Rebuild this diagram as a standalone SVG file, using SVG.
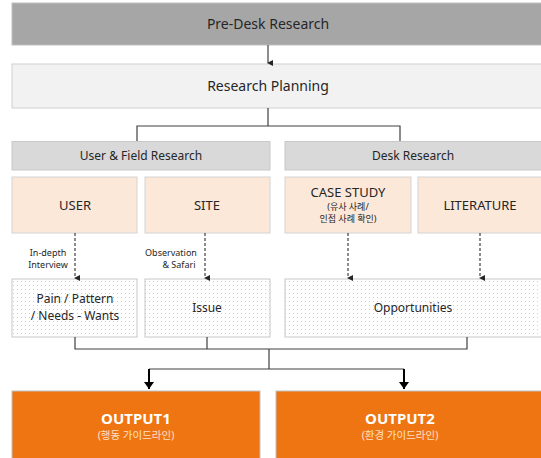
<svg xmlns="http://www.w3.org/2000/svg" width="541" height="458" viewBox="0 0 541 458">
<style>
text{font-family:"Noto Sans","Noto Sans CJK KR",sans-serif;fill:#262626;text-anchor:middle}
.l{fill:none;stroke:#404040;stroke-width:1.2}
.d{fill:none;stroke:#404040;stroke-width:1.2;stroke-dasharray:3,2}
.grey{fill:#d9d9d9;stroke:#c8c8c8}
.peach{fill:#fce8d9;stroke:#d4d4d4}
.dot{fill:url(#dots);stroke:#c8c8c8}
.out{fill:#ef7512;stroke:#c0c0c0}
</style>
<defs>
<pattern id="dots" width="4" height="4" patternUnits="userSpaceOnUse">
<rect width="4" height="4" fill="#ffffff"/>
<rect x="1" y="1" width="1" height="1" fill="#b4d4f5"/>
</pattern>
<marker id="a" markerWidth="6" markerHeight="6" refX="3" refY="5" orient="auto-start-reverse" markerUnits="userSpaceOnUse">
<path d="M0,0 L6,0 L3,6 z" fill="#262626"/>
</marker>
<marker id="b" markerWidth="10" markerHeight="10" refX="5" refY="9" markerUnits="userSpaceOnUse">
<path d="M0,2 L10,2 L5,9 z" fill="#000"/>
</marker>
</defs>
<g id="pre"><rect x="12" y="3" width="535" height="42" fill="#a6a6a6" stroke="#bfbfbf"/><text x="268" y="29" font-size="14">Pre-Desk Research</text></g>
<g id="planning"><rect x="12" y="64" width="535" height="44" fill="#f2f2f2" stroke="#d0d0d0"/><text x="268" y="91" font-size="14">Research Planning</text></g>
<g id="user-field"><rect class="grey" x="12" y="141.5" width="258" height="28.5"/><text x="141" y="160" font-size="12">User &amp; Field Research</text></g>
<g id="desk"><rect class="grey" x="285" y="141.5" width="262" height="28.5"/><text x="413" y="160" font-size="12">Desk Research</text></g>
<g id="user"><rect class="peach" x="12" y="177" width="125" height="56"/><text x="75" y="210" font-size="13">USER</text></g>
<g id="site"><rect class="peach" x="145" y="177" width="125" height="56"/><text x="207" y="210" font-size="13">SITE</text></g>
<g id="case"><rect class="peach" x="285" y="177" width="126" height="56"/><text x="348" y="197" font-size="13">CASE STUDY</text><text x="348" y="210" font-size="9">(유사 사례/</text><text x="348" y="222" font-size="9">인접 사례 확인)</text></g>
<g id="literature"><rect class="peach" x="418" y="177" width="129" height="56"/><text x="480" y="210" font-size="13">LITERATURE</text></g>
<g id="pain"><rect class="dot" x="12" y="279" width="125" height="58"/><text x="75" y="303" font-size="12">Pain / Pattern</text><text x="75" y="320" font-size="12">/ Needs - Wants</text></g>
<g id="issue"><rect class="dot" x="145" y="279" width="125" height="58"/><text x="207" y="312" font-size="12">Issue</text></g>
<g id="opp"><rect class="dot" x="285" y="279" width="262" height="58"/><text x="413" y="312" font-size="12">Opportunities</text></g>
<g id="output1"><rect class="out" x="12" y="391" width="248" height="70"/><text x="136" y="424" font-size="15" font-weight="bold" style="fill:#fff">OUTPUT1</text><text x="136" y="439" font-size="10.5" style="fill:#fde0c8">(행동 가이드라인)</text></g>
<g id="output2"><rect class="out" x="276" y="391" width="271" height="70"/><text x="400" y="424" font-size="15" font-weight="bold" style="fill:#fff">OUTPUT2</text><text x="400" y="439" font-size="10.5" style="fill:#fde0c8">(환경 가이드라인)</text></g>
<g id="connectors">
<path class="l" d="M268,45 V63" marker-end="url(#a)"/>
<path class="l" d="M268,108 V126 M137,141 V126 H400 V141"/>
<path class="d" d="M75,233 V278" marker-end="url(#a)"/>
<path class="d" d="M205,233 V278" marker-end="url(#a)"/>
<path class="d" d="M348,233 V278" marker-end="url(#a)"/>
<path class="d" d="M480,233 V278" marker-end="url(#a)"/>
<path class="l" d="M75,337 V349 H467 V337 M207,337 V349 M269,349 V369 M149,369 H404"/>
<path d="M149,369 V389" stroke="#000" stroke-width="2" marker-end="url(#b)"/>
<path d="M404,369 V389" stroke="#000" stroke-width="2" marker-end="url(#b)"/>
<text x="48" y="256" font-size="9">In-depth</text>
<text x="48" y="268" font-size="9">Interview</text>
<text x="171" y="256" font-size="9">Observation</text>
<text x="179" y="268" font-size="9">&amp; Safari</text>
</g>
</svg>
